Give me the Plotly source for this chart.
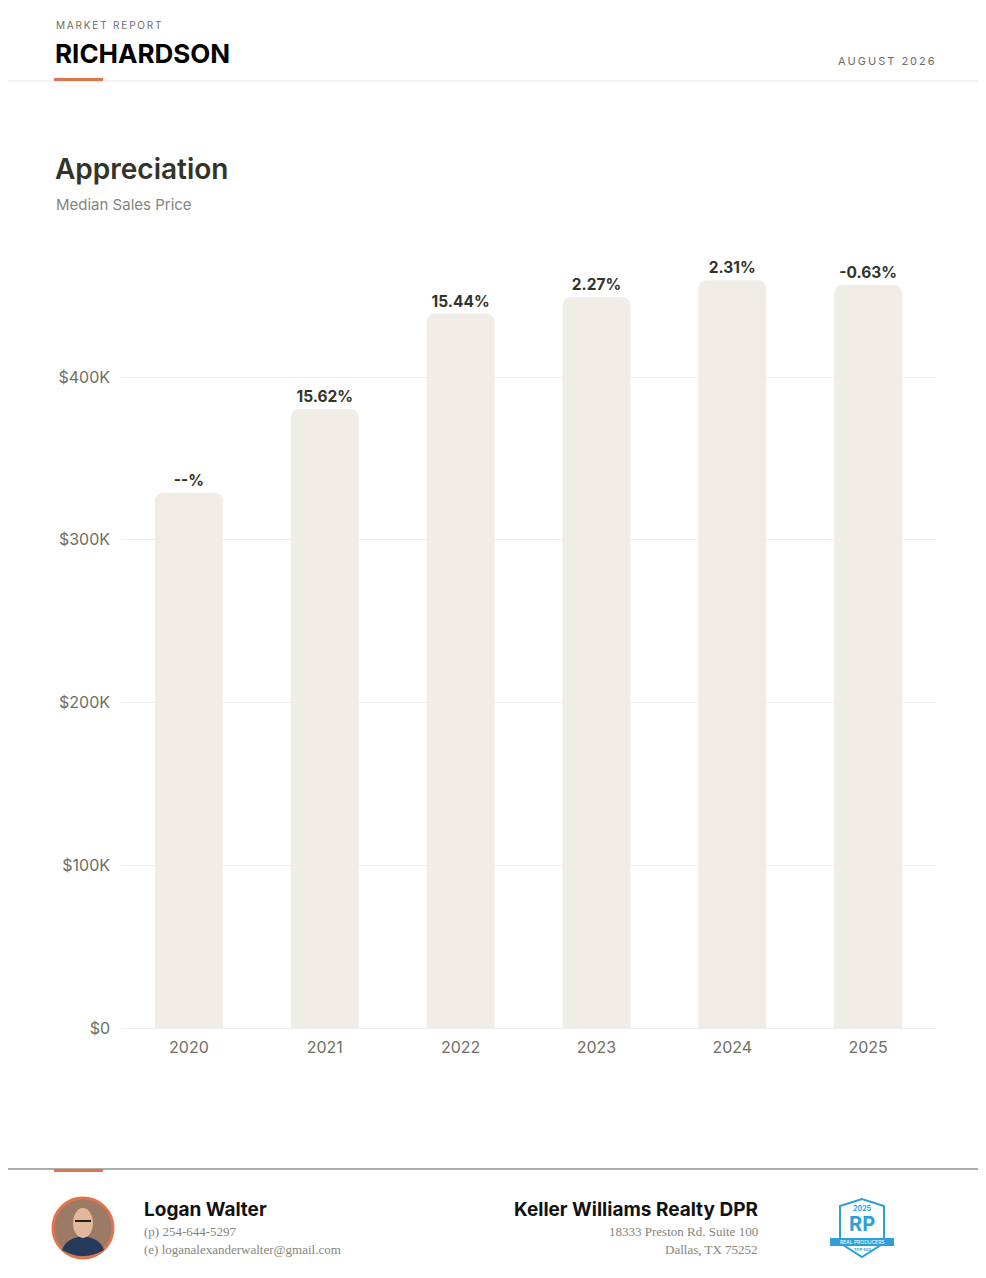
import plotly.graph_objects as go

# chart data
years = ["2020", "2021", "2022", "2023", "2024", "2025"]
median_price = [329000, 380400, 439100, 449100, 459500, 456600]
change_labels = ["--%", "15.62%", "15.44%", "2.27%", "2.31%", "-0.63%"]
tick_vals = [0, 100000, 200000, 300000, 400000]
tick_text = ["$0", "$100K", "$200K", "$300K", "$400K"]

# the page puts the figure 8px in from the corner, so size and place around that
OFF = 8
W, H = 986 - OFF * 2, 1278 - OFF * 2
L, R, T = 121 - OFF, 50 - OFF, 247 - OFF
B = H - (1028 - OFF)
PW, PH = W - L - R, H - T - B

SANS = "Inter, Lato, sans-serif"
SERIF = "Liberation Serif, DejaVu Serif, serif"
ORANGE = "#E0744F"
DARK = "#33332A"
GREY = "#6E6E62"
LIGHT = "#85857A"


def px(x):
    # page pixel -> paper x
    return (x - OFF - L) / PW


def py(y):
    # page pixel -> paper y
    return (1028 - y) / PH


def spaced(s):
    return "\u2009".join(s)


fig = go.Figure(
    go.Bar(
        x=years,
        y=median_price,
        text=change_labels,
        textposition="outside",
        textfont=dict(family=SANS, size=15.5, color=DARK, weight="bold"),
        cliponaxis=False,
        marker=dict(color="#F0EDE6", cornerradius=8, line=dict(width=0)),
        hoverinfo="x+y",
    )
)

fig.update_layout(
    width=W,
    height=H,
    margin=dict(l=L, r=R, t=T, b=B),
    paper_bgcolor="white",
    plot_bgcolor="white",
    bargap=0.5,
    showlegend=False,
    font=dict(family=SANS, color=GREY),
    xaxis=dict(
        showgrid=False,
        zeroline=False,
        showline=False,
        ticks="",
        ticklabelstandoff=8,
        tickfont=dict(size=16, color=GREY),
        fixedrange=True,
    ),
    yaxis=dict(
        range=[0, 480000],
        tickvals=tick_vals,
        ticktext=tick_text,
        showgrid=True,
        gridcolor="#EFEFEF",
        gridwidth=1,
        zeroline=True,
        zerolinecolor="#EFEFEF",
        zerolinewidth=1,
        showline=False,
        ticks="",
        ticklabelstandoff=10,
        tickfont=dict(size=16, color=GREY),
        fixedrange=True,
    ),
)

shapes = [
    # header rule and accent
    dict(type="line", xref="paper", yref="paper", x0=px(0), x1=px(986), y0=py(81), y1=py(81),
         line=dict(color="#E6E6E6", width=1)),
    dict(type="rect", xref="paper", yref="paper", x0=px(54), x1=px(103), y0=py(81), y1=py(78),
         fillcolor=ORANGE, line=dict(width=0)),
    # footer rule and accent
    dict(type="line", xref="paper", yref="paper", x0=px(0), x1=px(986), y0=py(1169), y1=py(1169),
         line=dict(color="#5A5A52", width=1)),
    dict(type="rect", xref="paper", yref="paper", x0=px(54), x1=px(103), y0=py(1172), y1=py(1169),
         fillcolor=ORANGE, line=dict(width=0)),
    # agent photo placeholder
    dict(type="circle", xref="paper", yref="paper", x0=px(53), x1=px(113), y0=py(1258), y1=py(1198),
         fillcolor="#9C7A66", line=dict(color=ORANGE, width=3)),
    dict(type="path", xref="paper", yref="paper",
         path=f"M {px(62)},{py(1250)} Q {px(66)},{py(1238)} {px(83)},{py(1236)} "
              f"Q {px(100)},{py(1238)} {px(104)},{py(1250)} Q {px(83)},{py(1262)} {px(62)},{py(1250)} Z",
         fillcolor="#263A5C", line=dict(width=0)),
    dict(type="circle", xref="paper", yref="paper", x0=px(73), x1=px(93), y0=py(1238), y1=py(1208),
         fillcolor="#E2B79B", line=dict(width=0)),
    dict(type="line", xref="paper", yref="paper", x0=px(75), x1=px(91), y0=py(1221), y1=py(1221),
         line=dict(color="#222222", width=2)),
    # award badge
    dict(type="path", xref="paper", yref="paper",
         path=f"M {px(840)},{py(1206)} L {px(862)},{py(1199)} L {px(884)},{py(1206)} "
              f"L {px(884)},{py(1243)} L {px(862)},{py(1257)} L {px(840)},{py(1243)} Z",
         fillcolor="white", line=dict(color="#2E9FD9", width=2)),
    dict(type="rect", xref="paper", yref="paper", x0=px(830), x1=px(894), y0=py(1246), y1=py(1238),
         fillcolor="#2E9FD9", line=dict(width=0)),
]

annotations = [
    dict(text=spaced("MARKET REPORT"), x=px(54), y=py(25), xanchor="left", yanchor="middle",
         font=dict(size=10, color=GREY)),
    dict(text="<b>RICHARDSON</b>", x=px(53), y=py(54), xanchor="left", yanchor="middle",
         font=dict(size=26, color="#000000")),
    dict(text=spaced("AUGUST 2026"), x=px(937), y=py(61), xanchor="right", yanchor="middle",
         font=dict(size=11, color=GREY)),
    dict(text="Appreciation", x=px(53), y=py(169), xanchor="left", yanchor="middle",
         font=dict(size=28, color=DARK, weight=600)),
    dict(text="Median Sales Price", x=px(54), y=py(204), xanchor="left", yanchor="middle",
         font=dict(size=15, color=LIGHT)),
    dict(text="<b>Logan Walter</b>", x=px(142), y=py(1209), xanchor="left", yanchor="middle",
         font=dict(size=19, color="#111111")),
    dict(text="(p) 254-644-5297", x=px(142), y=py(1231), xanchor="left", yanchor="middle",
         font=dict(family=SERIF, size=13, color=LIGHT)),
    dict(text="(e) loganalexanderwalter@gmail.com", x=px(142), y=py(1249), xanchor="left", yanchor="middle",
         font=dict(family=SERIF, size=13, color=LIGHT)),
    dict(text="<b>Keller Williams Realty DPR</b>", x=px(760), y=py(1209), xanchor="right", yanchor="middle",
         font=dict(size=19, color="#111111")),
    dict(text="18333 Preston Rd. Suite 100", x=px(760), y=py(1231), xanchor="right", yanchor="middle",
         font=dict(family=SERIF, size=13, color=LIGHT)),
    dict(text="Dallas, TX 75252", x=px(760), y=py(1249), xanchor="right", yanchor="middle",
         font=dict(family=SERIF, size=13, color=LIGHT)),
    dict(text="<b>2025</b>", x=px(862), y=py(1208), xanchor="center", yanchor="middle",
         font=dict(size=7, color="#2E9FD9")),
    dict(text="<b>RP</b>", x=px(862), y=py(1224), xanchor="center", yanchor="middle",
         font=dict(size=20, color="#2E9FD9")),
    dict(text="REAL PRODUCERS", x=px(862), y=py(1242), xanchor="center", yanchor="middle",
         font=dict(size=5, color="white")),
    dict(text="<b>TOP 500</b>", x=px(862), y=py(1249), xanchor="center", yanchor="middle",
         font=dict(size=4, color="#2E9FD9")),
]

for a in annotations:
    a.update(xref="paper", yref="paper", showarrow=False)

fig.update_layout(shapes=shapes, annotations=annotations)

fig.write_html("out.html")
